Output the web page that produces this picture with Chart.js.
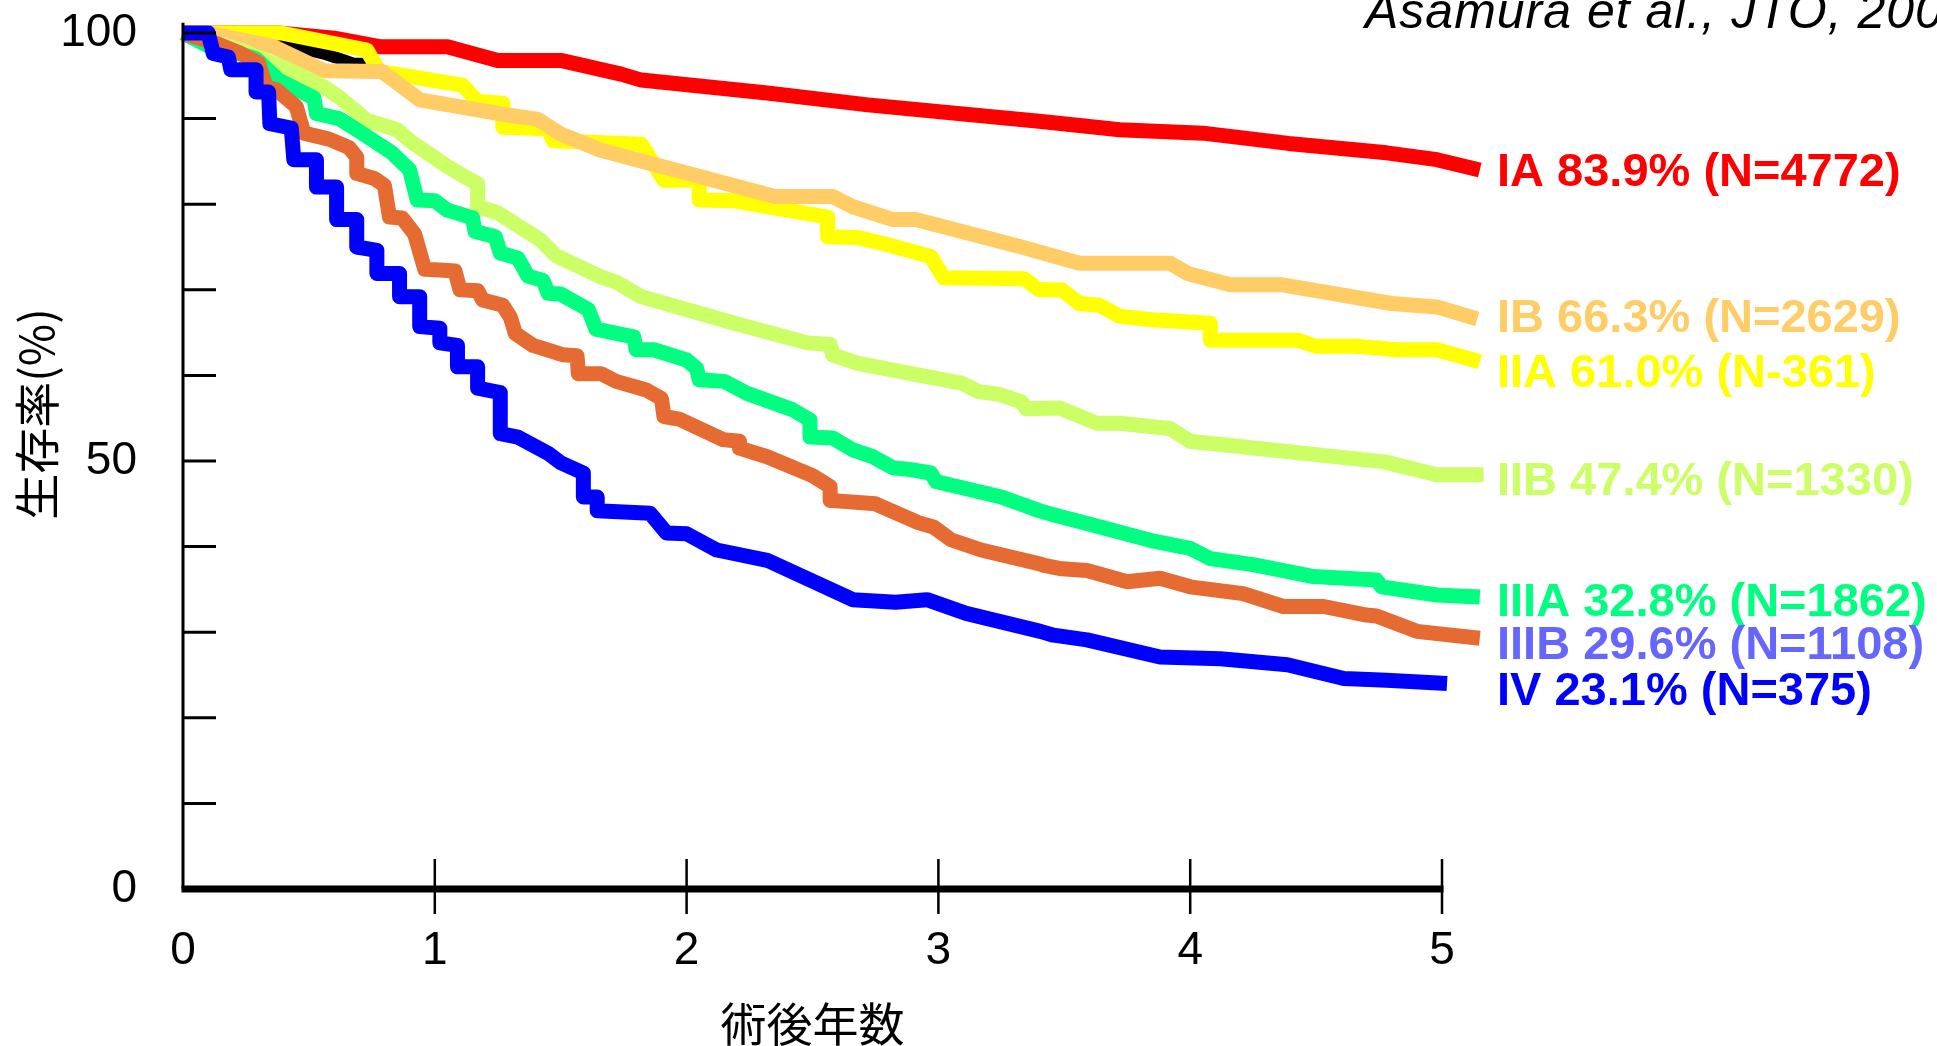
<!DOCTYPE html>
<html>
<head>
<meta charset="utf-8">
<script src="https://cdn.jsdelivr.net/npm/chart.js@4.4.0/dist/chart.umd.min.js"></script>
<style>
  html, body { margin: 0; padding: 0; background: #fff; overflow: hidden; }
  canvas { display: block; }
</style>
</head>
<body>
<canvas id="grafico" width="1937" height="1046"></canvas>
<script>
// Curvas de sobrevida (anos pós-operatórios x % de sobrevida)

const anosIA = [0, 0.38, 0.6, 0.78, 1.05, 1.25, 1.5, 1.74, 1.82, 2.32, 2.72, 3.4, 3.72, 4.05, 4.39, 4.78, 4.98, 5.15];
const survIA = [100, 100, 99.4, 98.4, 98.4, 96.8, 96.8, 95.2, 94.5, 93.0, 91.6, 89.7, 88.7, 88.3, 87.1, 86.0, 85.2, 84.0];

const anosIB = [0, 0.1, 0.23, 0.36, 0.56, 0.79, 0.94, 1.25, 1.41, 1.5, 1.66, 2.35, 2.58, 2.66, 2.82, 2.91, 3.33, 3.56, 3.92, 3.99, 4.16, 4.36, 4.8, 4.98, 5.14];
const survIB = [100, 100, 99.2, 98.4, 95.6, 95.5, 92.2, 90.6, 89.9, 88.2, 86.3, 80.9, 80.9, 79.7, 78.2, 78.2, 75.0, 73.1, 73.1, 71.9, 70.6, 70.6, 68.4, 68.0, 66.6];

const anosIIA = [0, 0.39, 0.73, 0.78, 1.11, 1.17, 1.27, 1.27, 1.45, 1.47, 1.82, 1.91, 2.05, 2.05, 2.19, 2.56, 2.56, 2.68, 2.78, 2.97, 3.02, 3.34, 3.4, 3.49, 3.56, 3.64, 3.72, 3.85, 4.08, 4.08, 4.43, 4.5, 4.66, 4.82, 4.98, 5.15];
const survIIA = [100, 100, 98.0, 95.5, 93.9, 92.0, 91.8, 89.0, 88.8, 87.4, 87.0, 82.8, 82.8, 80.5, 80.4, 78.5, 76.2, 76.1, 75.4, 73.9, 71.4, 71.3, 70.0, 70.0, 68.4, 68.2, 66.9, 66.5, 66.1, 64.1, 64.1, 63.4, 63.4, 63.0, 63.0, 61.6];

const anosIIB = [0, 0.23, 0.39, 0.56, 0.62, 0.73, 0.85, 0.91, 1.05, 1.12, 1.17, 1.17, 1.25, 1.42, 1.48, 1.66, 1.72, 1.82, 2.19, 2.48, 2.57, 2.58, 2.68, 3.09, 3.16, 3.24, 3.33, 3.35, 3.48, 3.63, 3.72, 3.92, 4.0, 4.77, 4.98, 5.165];
const survIIB = [100, 98.0, 96.1, 93.7, 92.5, 89.8, 88.7, 87.2, 84.4, 83.2, 82.4, 79.7, 79.0, 75.8, 74.0, 71.5, 70.9, 69.2, 66.1, 63.8, 63.6, 62.4, 61.4, 59.1, 58.1, 57.8, 56.9, 56.1, 56.2, 54.4, 54.4, 53.8, 52.3, 49.9, 48.4, 48.4];

const anosIIIA = [0, 0.1, 0.22, 0.29, 0.38, 0.52, 0.53, 0.62, 0.69, 0.83, 0.9, 0.93, 1.0, 1.05, 1.15, 1.16, 1.24, 1.26, 1.33, 1.37, 1.43, 1.45, 1.5, 1.61, 1.64, 1.79, 1.8, 1.87, 2.0, 2.04, 2.05, 2.15, 2.24, 2.42, 2.49, 2.49, 2.58, 2.66, 2.74, 2.82, 2.89, 2.97, 2.99, 3.25, 3.4, 3.46, 3.59, 3.86, 4.0, 4.08, 4.25, 4.49, 4.74, 4.76, 4.98, 5.15];
const survIIIA = [100, 98.5, 97.6, 97.0, 94.5, 92.4, 90.6, 90.0, 88.7, 86.0, 84.0, 80.5, 80.4, 79.3, 78.4, 76.8, 76.2, 74.3, 73.7, 71.6, 71.1, 69.6, 69.5, 67.7, 65.4, 64.5, 63.0, 63.0, 61.8, 60.8, 59.5, 59.3, 57.9, 56.0, 54.8, 52.8, 52.7, 51.3, 50.5, 49.2, 49.0, 48.6, 47.6, 45.8, 44.2, 43.7, 42.7, 40.6, 39.8, 38.6, 37.9, 36.5, 36.1, 35.3, 34.35, 34.1];

const anosIIIB = [0, 0.13, 0.23, 0.3, 0.33, 0.37, 0.45, 0.48, 0.58, 0.66, 0.69, 0.69, 0.76, 0.8, 0.82, 0.87, 0.92, 0.96, 1.02, 1.08, 1.1, 1.17, 1.19, 1.27, 1.3, 1.32, 1.39, 1.51, 1.565, 1.57, 1.66, 1.72, 1.84, 1.9, 1.91, 1.97, 2.145, 2.21, 2.21, 2.32, 2.5, 2.57, 2.57, 2.75, 2.92, 2.98, 3.05, 3.17, 3.4, 3.42, 3.49, 3.59, 3.75, 3.88, 4.0, 4.21, 4.37, 4.53, 4.7, 4.74, 4.9, 5.15];
const survIIIB = [100, 98.8, 97.6, 96.5, 93.7, 93.4, 91.4, 88.3, 87.6, 86.6, 85.5, 83.6, 83.0, 82.2, 78.5, 78.4, 76.5, 72.4, 72.3, 72.2, 70.0, 69.9, 68.8, 68.2, 66.8, 64.9, 63.5, 62.4, 62.3, 60.2, 60.2, 59.3, 58.3, 57.3, 55.2, 54.9, 52.5, 52.3, 51.5, 50.5, 48.3, 47.0, 45.4, 45.0, 42.8, 42.3, 40.8, 39.6, 38.0, 37.8, 37.4, 37.2, 35.9, 36.3, 35.3, 34.5, 33.0, 33.0, 32.0, 31.9, 30.1, 29.3];

const anosIV = [0, 0.1, 0.12, 0.18, 0.19, 0.29, 0.29, 0.34, 0.345, 0.43, 0.44, 0.53, 0.53, 0.61, 0.61, 0.69, 0.69, 0.77, 0.77, 0.86, 0.86, 0.94, 0.94, 1.02, 1.02, 1.09, 1.09, 1.17, 1.17, 1.26, 1.26, 1.33, 1.45, 1.5, 1.59, 1.59, 1.645, 1.645, 1.855, 1.92, 2.0, 2.12, 2.32, 2.66, 2.83, 2.955, 3.11, 3.405, 3.457, 3.59, 3.88, 4.12, 4.386, 4.61, 4.78, 5.02, 5.18];
const survIV = [100, 100, 97.6, 97.2, 95.7, 95.7, 93.1, 93.1, 89.4, 88.9, 85.2, 85.2, 82.0, 82.0, 78.2, 78.2, 75.0, 74.6, 71.9, 71.9, 69.2, 69.2, 65.7, 65.5, 63.8, 63.5, 61.0, 61.0, 58.5, 58.0, 53.2, 52.8, 50.9, 49.8, 48.6, 45.8, 45.8, 44.2, 43.9, 41.6, 41.5, 39.6, 38.4, 33.8, 33.5, 33.8, 32.2, 30.1, 29.65, 29.1, 27.1, 26.9, 26.2, 24.6, 24.4, 24.0, 23.8];

// curva preta curta (parcialmente encoberta)
const anosRef = [0, 0.3, 0.36, 0.56, 0.64, 0.68, 0.73];
const survRef = [100, 99.7, 99.0, 97.6, 96.8, 96.4, 96.4];

// Rótulos no fim das curvas
const rotulos = ['IA 83.9% (N=4772)', 'IB 66.3% (N=2629)', 'IIA 61.0% (N-361)', 'IIB 47.4% (N=1330)', 'IIIA 32.8% (N=1862)', 'IIIB 29.6% (N=1108)', 'IV 23.1% (N=375)'];

const ticksX = [0, 1, 2, 3, 4, 5];
const ticksYRotulados = [0, 50, 100];

// Estilo / posição dos textos
const fonteLatina = '"Liberation Sans", Arial, sans-serif';
const fonteCJK = '"Noto Sans CJK JP", "Noto Sans CJK SC", sans-serif';
const coresRotulo = ['#ff0000', '#ffcc66', '#ffff00', '#ccff66', '#00ff80', '#6666ff', '#0000ff'];
const alturaRotulo = [83.6, 66.6, 60.2, 47.5, 33.4, 28.4, 23.0];

const pontos = (anos, surv) => anos.map((a, i) => ({ x: a, y: surv[i] }));

function serie(label, anos, surv, cor, ordem, largura = 15) {
  return {
    label,
    data: pontos(anos, surv),
    borderColor: cor,
    backgroundColor: cor,
    borderWidth: largura,
    pointRadius: 0,
    fill: false,
    tension: 0,
    clip: false,
    order: ordem,
    borderJoinStyle: 'round',
    borderCapStyle: 'butt'
  };
}

const eixos = {
  id: 'eixos',
  afterDatasetsDraw(chart) {
    const { ctx, scales: { x, y } } = chart;
    const x0 = x.getPixelForValue(0);
    const y0 = y.getPixelForValue(0);
    ctx.save();
    ctx.strokeStyle = '#000';
    ctx.lineCap = 'butt';

    // eixo Y com marcas para dentro
    ctx.lineWidth = 3;
    ctx.beginPath();
    ctx.moveTo(x0, y.getPixelForValue(101.2));
    ctx.lineTo(x0, y0);
    y.ticks.forEach(t => {
      const py = y.getPixelForValue(t.value);
      ctx.moveTo(x0, py);
      ctx.lineTo(x0 + 33, py);
    });
    ctx.stroke();

    // marcas do eixo X cruzando a linha
    ctx.lineWidth = 2.5;
    ctx.beginPath();
    x.ticks.forEach(t => {
      if (t.value === 0) return;
      const px = x.getPixelForValue(t.value);
      ctx.moveTo(px, y0 - 30);
      ctx.lineTo(px, y0 + 25);
    });
    ctx.stroke();

    // linha grossa do eixo X
    ctx.lineWidth = 7;
    ctx.beginPath();
    ctx.moveTo(x0 - 1.5, y0);
    ctx.lineTo(x.getPixelForValue(5) + 1.5, y0);
    ctx.stroke();
    ctx.restore();
  },
  afterDraw(chart) {
    const { ctx, chartArea, scales: { x, y } } = chart;
    ctx.save();

    // rótulos dos estágios
    ctx.font = `bold 47px ${fonteLatina}`;
    ctx.textAlign = 'left';
    ctx.textBaseline = 'middle';
    rotulos.forEach((txt, i) => {
      ctx.fillStyle = coresRotulo[i];
      ctx.fillText(txt, chartArea.right + 55, y.getPixelForValue(alturaRotulo[i]));
    });

    // referência
    ctx.fillStyle = '#000';
    ctx.font = `italic 50px ${fonteLatina}`;
    ctx.letterSpacing = '1px';
    ctx.textBaseline = 'alphabetic';
    ctx.fillText('Asamura et al., JTO, 2008', 1365, 28);
    ctx.letterSpacing = '0px';

    // títulos dos eixos
    ctx.font = `46px ${fonteCJK}`;
    ctx.textAlign = 'center';
    ctx.textBaseline = 'middle';
    ctx.fillText('術後年数', (x.left + x.right) / 2, 1024);

    ctx.translate(37, 414);
    ctx.rotate(-Math.PI / 2);
    ctx.fillText('生存率(%)', 0, 0);
    ctx.restore();
  }
};

new Chart(document.querySelector('#grafico'), {
  type: 'line',
  data: {
    datasets: [
      serie('IA', anosIA, survIA, '#ff0000', 7),
      serie('IB', anosIB, survIB, '#ffcc66', 4),
      serie('IIA', anosIIA, survIIA, '#ffff00', 5),
      serie('IIB', anosIIB, survIIB, '#ccff66', 3),
      serie('IIIA', anosIIIA, survIIIA, '#00ff80', 2),
      serie('IIIB', anosIIIB, survIIIB, '#e66b33', 1),
      serie('IV', anosIV, survIV, '#0000ff', 0),
      serie('ref', anosRef, survRef, '#000000', 6, 12)
    ]
  },
  options: {
    responsive: false,
    animation: false,
    devicePixelRatio: 1,
    layout: { padding: { top: 33, right: 495, left: 0, bottom: 0 } },
    plugins: { legend: { display: false }, tooltip: { enabled: false } },
    scales: {
      x: {
        type: 'linear',
        min: 0,
        max: 5,
        grid: { display: false, drawTicks: false },
        border: { display: false },
        afterBuildTicks: s => { s.ticks = ticksX.map(v => ({ value: v })); },
        ticks: { color: '#000', padding: 35, font: { family: fonteLatina, size: 46 } },
        afterFit: s => { s.height = 157; }
      },
      y: {
        type: 'linear',
        min: 0,
        max: 100,
        grid: { display: false, drawTicks: false },
        border: { display: false },
        ticks: {
          stepSize: 10,
          autoSkip: false,
          color: '#000',
          padding: 46,
          font: { family: fonteLatina, size: 46 },
          callback: v => ticksYRotulados.includes(v) ? String(v) : ''
        },
        afterFit: s => {
          s.width = 183;
          s.paddingTop = 0;
          s.paddingBottom = 0;
        }
      }
    }
  },
  plugins: [eixos]
});
</script>
</body>
</html>
